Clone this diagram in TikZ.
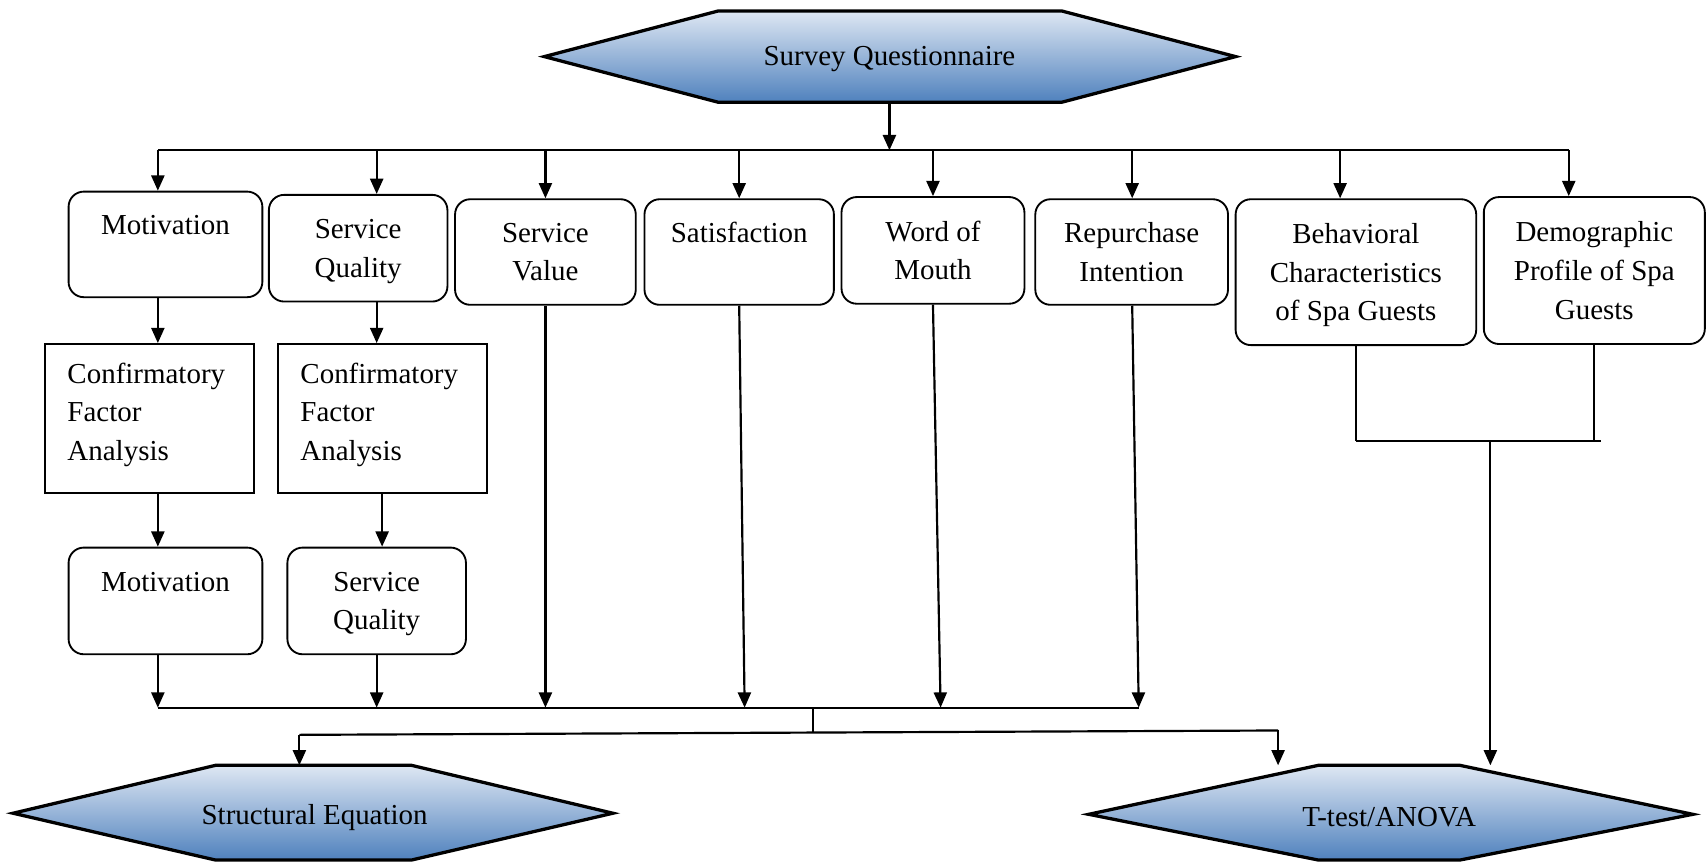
\documentclass[tikz,border=0pt]{standalone}
\usepackage{fontspec}
\setmainfont{Liberation Serif}
\usetikzlibrary{arrows.meta,calc}
\definecolor{hextop}{RGB}{222,231,243}
\definecolor{hexbot}{RGB}{79,129,189}
\begin{document}
\begin{tikzpicture}[x=0.5pt,y=-0.5pt,
  every node/.style={font=\fontsize{13.3}{17.75}\selectfont},
  rbox/.style={draw, line width=0.85pt, rounded corners=7pt, align=center, inner sep=2pt, text depth=0pt},
  sbox/.style={draw, line width=0.85pt, align=left, inner xsep=10.5pt, text width=75pt, text depth=42pt},
  hexa/.style={draw, line width=1.5pt, line join=miter, top color=hextop, bottom color=hexbot},
  arr/.style={line width=1pt, -{Triangle[length=7pt,width=6pt]}},
  ln/.style={line width=1pt}]
\useasboundingbox (0,0) rectangle (1568,792);

% hexagons
\path[hexa] (500,52) -- (660,10) -- (975,10) -- (1135,52) -- (975,94) -- (660,94) -- cycle;
\node (survey) at (817,54) {Survey Questionnaire};
\path[hexa] (12,747) -- (198,703) -- (378,703) -- (563,747) -- (378,790) -- (198,790) -- cycle;
\node (sem) at (289,751) {Structural Equation};
\path[hexa] (1000,748) -- (1211,703) -- (1341,703) -- (1555,748) -- (1341,790) -- (1211,790) -- cycle;
\node (anova) at (1276,751) {T-test/ANOVA};

% first row
\node[rbox, minimum width=89pt, minimum height=48.5pt] (mot1) at (152,224.5) {Motivation\\\strut};
\node[rbox, minimum width=82pt, minimum height=49pt] (sq1) at (329,228) {Service\\Quality};
\node[rbox, minimum width=83pt, minimum height=48.5pt] (sv) at (501,231.5) {Service\\Value};
\node[rbox, minimum width=87pt, minimum height=48.5pt] (sat) at (679,231.5) {Satisfaction\\\strut};
\node[rbox, minimum width=84pt, minimum height=49pt] (wom) at (857,230) {Word of\\Mouth};
\node[rbox, minimum width=88.5pt, minimum height=48.5pt] (rep) at (1039.5,231.5) {Repurchase\\Intention};
\node[rbox, minimum width=110.5pt, minimum height=67pt] (beh) at (1245.5,250) {Behavioral\\Characteristics\\of Spa Guests};
\node[rbox, minimum width=101.5pt, minimum height=67.5pt] (dem) at (1464.5,248.5) {Demographic\\Profile of Spa\\Guests};

% CFA
\node[sbox, minimum height=68.5pt] (cfa1) at (137,384.5) {Confirmatory\\Factor\\Analysis};
\node[sbox, minimum height=68.5pt] (cfa2) at (351,384.5) {Confirmatory\\Factor\\Analysis};

% second results
\node[rbox, minimum width=89pt, minimum height=49pt] (mot2) at (152,552) {Motivation\\\strut};
\node[rbox, minimum width=82pt, minimum height=49pt] (sq2) at (346,552) {Service\\Quality};

% top bus
\coordinate (sqs) at (817,94);
\coordinate (top1) at (145,138);
\coordinate (top2) at (346,138);
\coordinate (top3) at (501,138);
\coordinate (top4) at (679,138);
\coordinate (top5) at (857,138);
\coordinate (top6) at (1040,138);
\coordinate (top7) at (1231,138);
\coordinate (top8) at (1441,138);
\draw[arr] (sqs) -- (sqs |- top1);
\draw[ln] (top1) -- (top8);
\draw[arr] (top1) -- (top1 |- mot1.north);
\draw[arr] (top2) -- (top2 |- sq1.north);
\draw[arr] (top3) -- (top3 |- sv.north);
\draw[arr] (top4) -- (top4 |- sat.north);
\draw[arr] (top5) -- (top5 |- wom.north);
\draw[arr] (top6) -- (top6 |- rep.north);
\draw[arr] (top7) -- (top7 |- beh.north);
\draw[arr] (top8) -- (top8 |- dem.north);

% left chains
\draw[arr] (top1 |- mot1.south) -- (top1 |- cfa1.north);
\draw[arr] (top2 |- sq1.south) -- (top2 |- cfa2.north);
\draw[arr] (top1 |- cfa1.south) -- (top1 |- mot2.north);
\draw[arr] (cfa2.south) -- (cfa2.south |- sq2.north);

% lower bus
\coordinate (m1) at (145,650);
\coordinate (m2) at (346,650);
\coordinate (m3) at (501,650);
\coordinate (m4) at (684,650);
\coordinate (m5) at (864,650);
\coordinate (m6) at (1046,650);
\draw[arr] (top1 |- mot2.south) -- (m1);
\draw[arr] (top2 |- sq2.south) -- (m2);
\draw[arr] (top3 |- sv.south) -- (m3);
\draw[arr] (top4 |- sat.south) -- (m4);
\draw[arr] (top5 |- wom.south) -- (m5);
\draw[arr] (top6 |- rep.south) -- (m6);
\draw[ln] (m1) -- (m6);
\coordinate (j1) at (747,650);
\coordinate (j2) at (747,673);
\draw[ln] (j1) -- (j2);
\coordinate (l1) at (275,675);
\coordinate (l2) at (1174,671);
\coordinate (semn) at (275,703);
\coordinate (ttl) at (1174,703);
\draw[ln] (l1) -- (l2);
\draw[arr] (l1) -- (semn);
\draw[arr] (l2) -- (ttl);

% right side
\coordinate (r1) at (1246,405);
\coordinate (r2) at (1471,405);
\coordinate (rj) at (1369,405);
\coordinate (ttr) at (1369,703);
\draw[ln] (beh.south) -- (beh.south |- r1);
\draw[ln] (dem.south) -- (dem.south |- r1);
\draw[ln] (beh.south |- r1) -- (r2);
\draw[arr] (rj) -- (ttr);
\end{tikzpicture}
\end{document}
